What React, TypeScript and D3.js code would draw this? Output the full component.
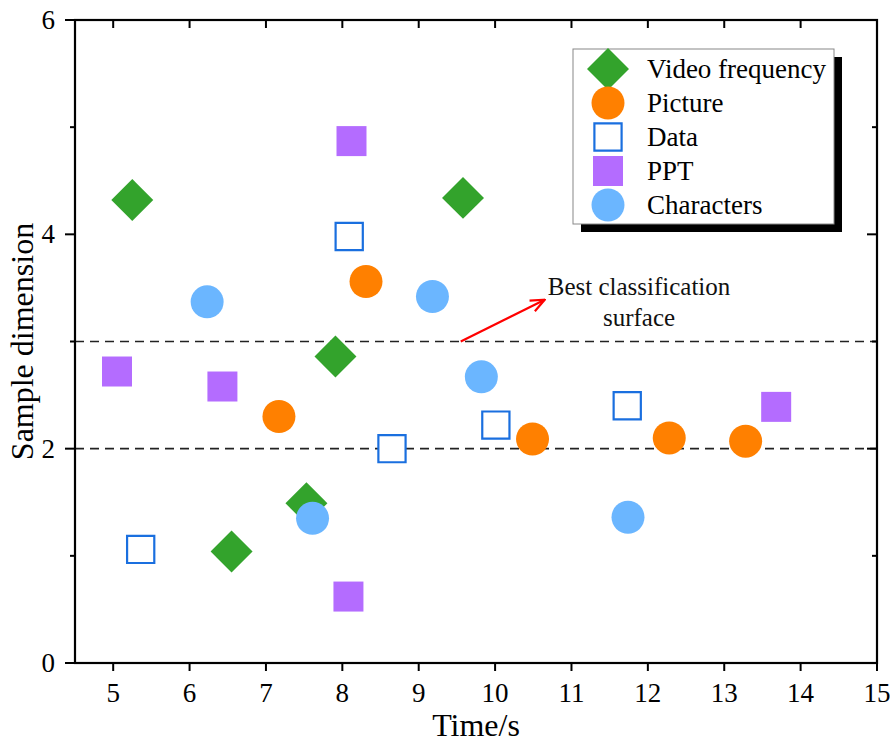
import React from "react";
import * as d3 from "d3";

// series values
const videoX = [5.25, 9.58, 7.91, 7.53, 6.55];
const videoY = [4.32, 4.34, 2.86, 1.49, 1.04];
const pictureX = [8.31, 7.17, 10.49, 12.28, 13.28];
const pictureY = [3.56, 2.3, 2.09, 2.1, 2.07];
const dataX = [5.36, 8.09, 8.65, 10.01, 11.73];
const dataY = [1.06, 3.98, 2.0, 2.22, 2.4];
const pptX = [8.12, 5.05, 6.43, 8.08, 13.68];
const pptY = [4.87, 2.72, 2.58, 0.62, 2.39];
const charX = [6.23, 9.18, 9.82, 7.61, 11.74];
const charY = [3.37, 3.42, 2.67, 1.35, 1.36];

const xTicks = [5, 6, 7, 8, 9, 10, 11, 12, 13, 14, 15];
const yMajor = [0, 2, 4, 6];
const yMinor = [1, 3, 5];
const boundaries = [3, 2];
const arrowFrom = [9.55, 3.0];
const arrowTo = [10.65, 3.39];

const series = [
  { name: "Video frequency", xs: videoX, ys: videoY, kind: "diamond", color: "#33a32c" },
  { name: "Picture", xs: pictureX, ys: pictureY, kind: "circle", color: "#ff8000" },
  { name: "Data", xs: dataX, ys: dataY, kind: "open", color: "#1a6fdf" },
  { name: "PPT", xs: pptX, ys: pptY, kind: "square", color: "#b46cff" },
  { name: "Characters", xs: charX, ys: charY, kind: "circle", color: "#6bb6ff" },
];

const font = "'Liberation Serif', 'Times New Roman', serif";

const diamondPath = d3.symbol(d3.symbolSquare, 880)()!;
const circlePath = d3.symbol(d3.symbolCircle, 855)()!;
const squarePath = d3.symbol(d3.symbolSquare, 900)()!;
const openPath = d3.symbol(d3.symbolSquare, 740)()!;

function Marker({ kind, color, x, y }: { kind: string; color: string; x: number; y: number }) {
  if (kind === "diamond")
    return <path d={diamondPath} transform={`translate(${x},${y}) rotate(45)`} fill={color} />;
  if (kind === "circle") return <path d={circlePath} transform={`translate(${x},${y})`} fill={color} />;
  if (kind === "square") return <path d={squarePath} transform={`translate(${x},${y})`} fill={color} />;
  return <path d={openPath} transform={`translate(${x},${y})`} fill="white" stroke={color} strokeWidth={2.2} />;
}

export default function App() {
  const width = 890;
  const height = 742;
  const margin = { top: 20, right: 13, bottom: 79, left: 75 };

  const x = d3.scaleLinear().domain([4.5, 15]).range([margin.left, width - margin.right]);
  const y = d3.scaleLinear().domain([0, 6]).range([height - margin.bottom, margin.top]);

  const [x0, x1] = x.range();
  const [y0, y1] = y.range();

  const legendX = 573;
  const legendY = 49;
  const legendW = 261;
  const legendH = 175;

  return (
    <svg
      width={width}
      height={height}
      style={{ position: "absolute", left: 0, top: 0, background: "white" }}
      fontFamily={font}
    >
      <defs>
        <marker id="head" viewBox="0 0 16 16" refX="15" refY="8" markerWidth="16" markerHeight="16" markerUnits="userSpaceOnUse" orient="auto">
          <path d="M1,2 L15,8 L1,14" fill="none" stroke="#ff0000" strokeWidth={2.2} />
        </marker>
      </defs>

      {/* classification boundaries */}
      {boundaries.map((b) => (
        <line key={b} x1={x0} x2={x1} y1={y(b)} y2={y(b)} stroke="#222" strokeWidth={1.7} strokeDasharray="9,6" />
      ))}

      {/* points */}
      {series.map((s) =>
        s.xs.map((v, i) => <Marker key={s.name + i} kind={s.kind} color={s.color} x={x(v)} y={y(s.ys[i])} />)
      )}

      {/* annotation */}
      <line
        x1={x(arrowFrom[0])}
        y1={y(arrowFrom[1])}
        x2={x(arrowTo[0])}
        y2={y(arrowTo[1])}
        stroke="#ff0000"
        strokeWidth={2.2}
        markerEnd="url(#head)"
      />
      <text x={639} y={295} fontSize={25} textAnchor="middle" fill="#111">Best classification</text>
      <text x={639} y={326} fontSize={25} textAnchor="middle" fill="#111">surface</text>

      {/* frame */}
      <rect x={x0} y={y1} width={x1 - x0} height={y0 - y1} fill="none" stroke="#000" strokeWidth={2.2} />

      {/* bottom + top ticks */}
      {xTicks.map((t) => (
        <g key={t}>
          <line x1={x(t)} x2={x(t)} y1={y0} y2={y0 + 8} stroke="#000" strokeWidth={2} />
          <line x1={x(t)} x2={x(t)} y1={y1} y2={y1 + 8} stroke="#000" strokeWidth={2} />
          <text x={x(t)} y={y0 + 39} fontSize={27} textAnchor="middle" fill="#000">{t}</text>
        </g>
      ))}

      {/* left + right ticks */}
      {yMajor.map((t) => (
        <g key={t}>
          <line x1={x0 - 10} x2={x0} y1={y(t)} y2={y(t)} stroke="#000" strokeWidth={2} />
          <line x1={x1 - 10} x2={x1} y1={y(t)} y2={y(t)} stroke="#000" strokeWidth={2} />
          <text x={x0 - 20} y={y(t) + 9} fontSize={27} textAnchor="end" fill="#000">{t}</text>
        </g>
      ))}
      {yMinor.map((t) => (
        <g key={t}>
          <line x1={x0 - 5} x2={x0} y1={y(t)} y2={y(t)} stroke="#000" strokeWidth={2} />
          <line x1={x1 - 5} x2={x1} y1={y(t)} y2={y(t)} stroke="#000" strokeWidth={2} />
        </g>
      ))}

      {/* axis titles */}
      <text x={(x0 + x1) / 2} y={736} fontSize={32} textAnchor="middle" fill="#000">Time/s</text>
      <text transform={`translate(33,${(y0 + y1) / 2}) rotate(-90)`} fontSize={32} textAnchor="middle" fill="#000">
        Sample dimension
      </text>

      {/* legend */}
      <rect x={legendX + 8} y={legendY + 8} width={legendW} height={legendH} fill="#000" />
      <rect x={legendX} y={legendY} width={legendW} height={legendH} fill="white" stroke="#888" strokeWidth={1} />
      {series.map((s, i) => {
        const ly = legendY + 20 + i * 34;
        return (
          <g key={s.name}>
            <Marker kind={s.kind} color={s.color} x={legendX + 35} y={ly} />
            <text x={legendX + 74} y={ly + 9} fontSize={27} fill="#000">{s.name}</text>
          </g>
        );
      })}
    </svg>
  );
}
